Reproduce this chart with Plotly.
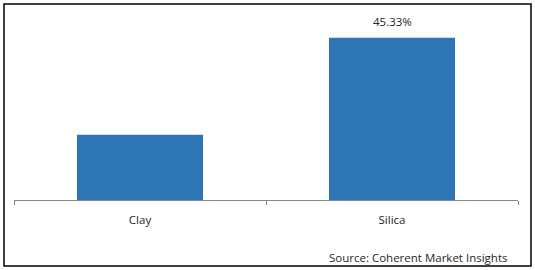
import plotly.graph_objects as go

categories = ["Clay", "Silica"]
values = [18.2, 45.33]
labels = ["", f"{values[1]:.2f}%"]
source_text = "Source: Coherent Market Insights"

W, H = 535, 270
L, R, T, B = 14, 17, 21, 70
pw, ph = W - L - R, H - T - B

def px_x(x):
    return (x - L) / pw

def px_y(y):
    return (H - B - y) / ph

font = dict(family="Open Sans", size=11.5, color="#262626")

fig = go.Figure(go.Bar(
    x=categories, y=values,
    marker=dict(color="#2E75B6", line=dict(width=0)),
    width=0.5,
))

fig.add_annotation(x=categories[1], y=values[1], text=labels[1], showarrow=False,
                   yanchor="bottom", yshift=7, font=font)
fig.add_annotation(xref="paper", yref="paper", x=px_x(509), y=px_y(257),
                   text=source_text, showarrow=False, xanchor="right", yanchor="middle",
                   font=font)
fig.add_shape(type="rect", xref="paper", yref="paper",
              x0=px_x(4), x1=px_x(531), y0=px_y(266), y1=px_y(4),
              line=dict(color="black", width=1.5))

fig.update_layout(
    width=W, height=H,
    margin=dict(l=L, r=R, t=T, b=B),
    paper_bgcolor="white", plot_bgcolor="white",
    showlegend=False,
    font=font,
)
fig.update_xaxes(showline=True, linecolor="#868686", linewidth=1,
                 ticks="outside", ticklen=4, tickcolor="#868686", tickson="boundaries",
                 ticklabelstandoff=9, showgrid=False)
fig.update_yaxes(range=[0, 50], visible=False, showgrid=False)

fig.write_html("out.html")
